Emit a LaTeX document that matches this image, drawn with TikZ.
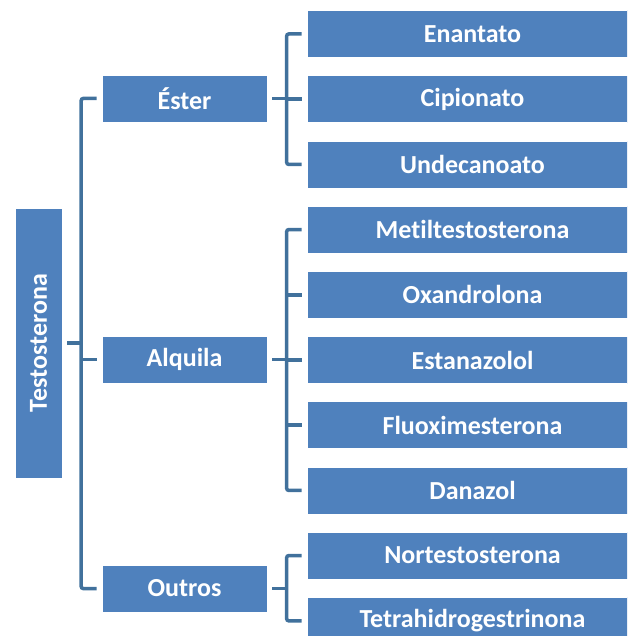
\documentclass[tikz,border=0pt]{standalone}
\usepackage{fontspec}
\setmainfont{Carlito}[Ligatures={NoCommon}]
\usepackage{graphicx}
\definecolor{boxblue}{HTML}{4F81BD}
\definecolor{linkblue}{HTML}{41719C}
\begin{document}
\begin{tikzpicture}[x=1pt,y=-1pt,
  box/.style={fill=boxblue, draw=white, line width=0.6pt, inner sep=0pt,
    text=white, font=\fontsize{26}{30}\selectfont\bfseries},
  rootbox/.style={box, minimum width=47pt, minimum height=270pt},
  midbox/.style={box, minimum width=165pt, minimum height=47pt},
  leafbox/.style={box, minimum width=331pt, minimum height=47pt},
  conn/.style={draw=linkblue, line width=3.5pt, rounded corners=2pt}]
\useasboundingbox (0,0) rectangle (627,636);
\clip (0,0) rectangle (627,636);

% root
\node[rootbox] (root) at (38.5,343) {\rotatebox{90}{Testosterona}};

% middle level
\node[midbox] (ester)   at (184.5,98.5)  {Éster};
\node[midbox] (alquila) at (184.5,359.5) {Alquila};
\node[midbox] (outros)  at (184.5,588.5) {Outros};

% leaves
\foreach \name/\label [count=\i from 0] in {
    enantato/Enantato, cipionato/Cipionato, undecanoato/Undecanoato,
    metil/Metiltestosterona, oxandrolona/Oxandrolona, estanazolol/Estanazolol,
    fluox/Fluoximesterona, danazol/Danazol, nortest/Nortestosterona,
    tetra/Tetrahidrogestrinona}
  \node[leafbox] (\name) at (472.5,{34+65.2*\i}) {\label};

% root to middle level
\draw[conn] ([xshift=-5pt]ester.west) -| ([xshift=-20.5pt]outros.west) -- ([xshift=-5pt]outros.west);
\draw[conn] ([xshift=-5pt]alquila.west) -- ++(-15.5,0);
\draw[conn] ([xshift=5pt]root.east) -- ++(14.5,0);

% Éster group
\draw[conn] ([xshift=-5pt]enantato.west) -| ([xshift=-20pt]undecanoato.west) -- ([xshift=-5pt]undecanoato.west);
\draw[conn] ([xshift=-5pt]cipionato.west) -- ++(-15,0);
\draw[conn] ([xshift=5pt]ester.east) -- ++(15,0);

% Alquila group
\draw[conn] ([xshift=-5pt]metil.west) -| ([xshift=-20pt]danazol.west) -- ([xshift=-5pt]danazol.west);
\foreach \n in {oxandrolona,estanazolol,fluox}
  \draw[conn] ([xshift=-5pt]\n.west) -- ++(-15,0);
\draw[conn] ([xshift=5pt]alquila.east) -- ++(15,0);

% Outros group
\draw[conn] ([xshift=-5pt]nortest.west) -| ([xshift=-20pt]tetra.west) -- ([xshift=-5pt]tetra.west);
\draw[conn] ([xshift=5pt]outros.east) -- ++(15,0);
\end{tikzpicture}
\end{document}
